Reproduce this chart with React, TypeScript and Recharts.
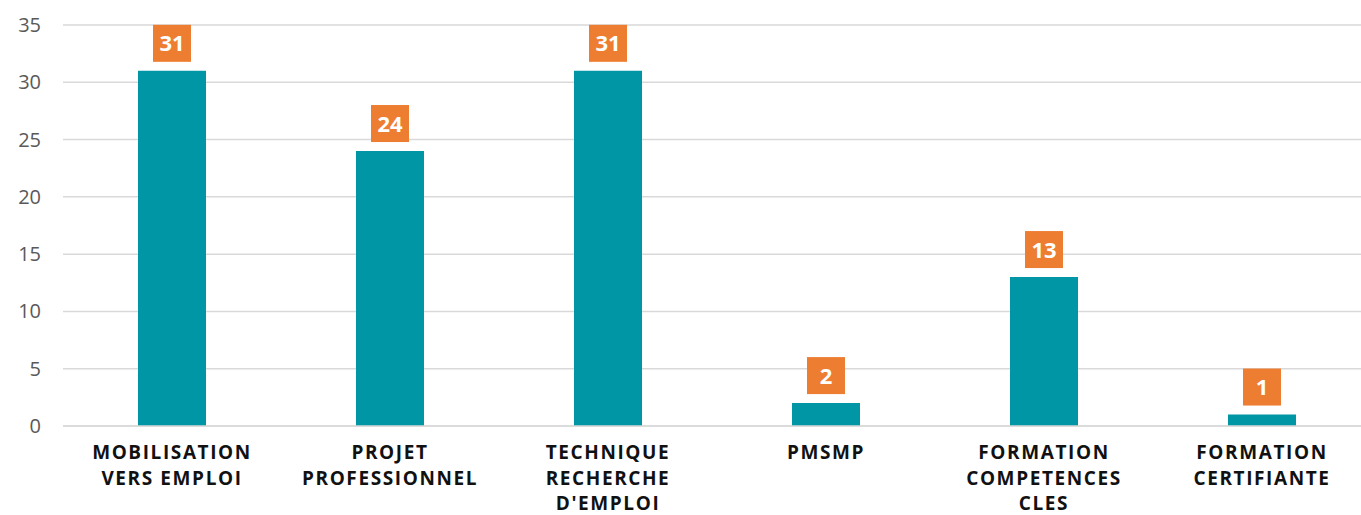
import { Bar, BarChart, CartesianGrid, LabelList, XAxis, YAxis } from "recharts"

const categories = [
  "MOBILISATION\nVERS EMPLOI",
  "PROJET\nPROFESSIONNEL",
  "TECHNIQUE\nRECHERCHE\nD'EMPLOI",
  "PMSMP",
  "FORMATION\nCOMPETENCES\nCLES",
  "FORMATION\nCERTIFIANTE",
]
const values = [31, 24, 31, 2, 13, 1]
const yTicks = [0, 5, 10, 15, 20, 25, 30, 35]

const data = categories.map((name, i) => ({ name, value: values[i] }))

const FONT = "'Open Sans', sans-serif"

function XTick(props: any) {
  const { x, y, payload } = props
  const lines = String(payload.value).split("\n")
  return (
    <g transform={`translate(${x},${y})`}>
      {lines.map((l, i) => (
        <text
          key={i}
          x={0}
          y={25 + i * 25.5}
          textAnchor="middle"
          fill="#111"
          fontFamily={FONT}
          fontWeight={700}
          fontSize={19}
          letterSpacing={1.6}
        >
          {l}
        </text>
      ))}
    </g>
  )
}

function YTick(props: any) {
  const { x, y, payload } = props
  return (
    <text x={x - 14} y={y + 7} textAnchor="end" fill="#595959" fontFamily={FONT} fontSize={20}>
      {payload.value}
    </text>
  )
}

function ValueBadge(props: any) {
  const { x, y, width, value } = props
  const cx = x + width / 2
  const w = 38
  const h = 37
  return (
    <g>
      <rect x={cx - w / 2} y={y - 9 - h} width={w} height={h} fill="#ED7D31" />
      <text
        x={cx}
        y={y - 9 - h / 2 + 8}
        textAnchor="middle"
        fill="#fff"
        fontFamily={FONT}
        fontWeight={700}
        fontSize={22}
      >
        {value}
      </text>
    </g>
  )
}

export default function App() {
  return (
    <div style={{ position: "absolute", left: 0, top: 0, width: 1361, height: 515, overflow: "hidden", background: "#fff" }}>
      <BarChart
        width={1371}
        height={515}
        data={data}
        margin={{ top: 25, right: 0, left: 0, bottom: 0 }}
        barSize={68}
      >
        <CartesianGrid vertical={false} stroke="#d9d9d9" strokeWidth={1.5} />
        <XAxis
          dataKey="name"
          height={89}
          axisLine={{ stroke: "#d9d9d9", strokeWidth: 1.5 }}
          tickLine={false}
          interval={0}
          tick={<XTick />}
        />
        <YAxis
          width={63}
          domain={[0, 35]}
          ticks={yTicks}
          axisLine={false}
          tickLine={false}
          tick={<YTick />}
        />
        <Bar dataKey="value" fill="#0096A6" isAnimationActive={false}>
          <LabelList dataKey="value" content={<ValueBadge />} />
        </Bar>
      </BarChart>
    </div>
  )
}
